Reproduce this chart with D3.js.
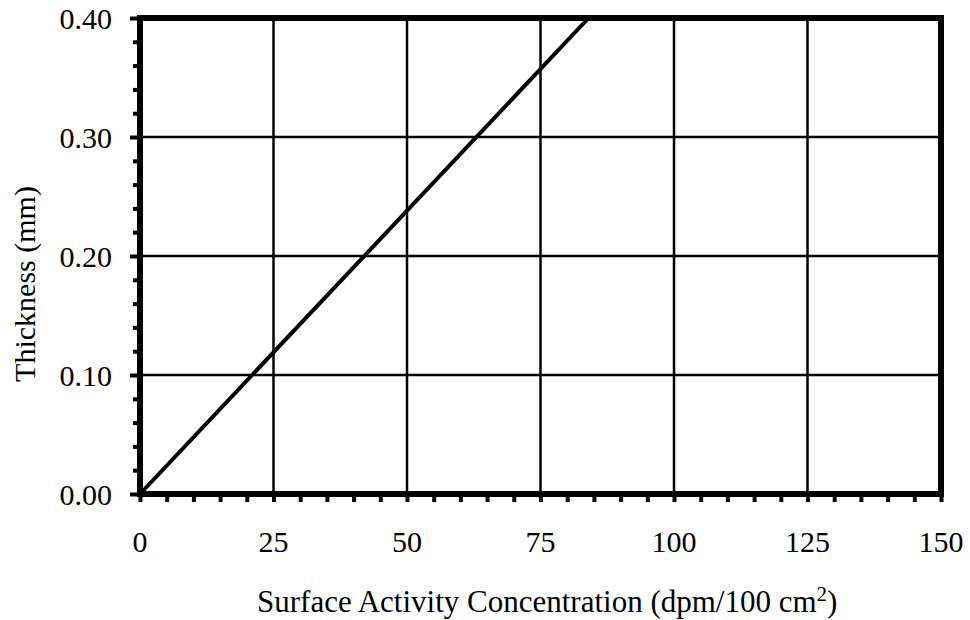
<!DOCTYPE html>
<html>
<head>
<meta charset="utf-8">
<script src="https://cdn.jsdelivr.net/npm/d3@7"></script>
<style>
  body { margin: 0; background: #fff; }
  text { font-family: "Liberation Serif", "Times New Roman", serif; fill: #000; }
</style>
</head>
<body>
<div id="chart"></div>
<script>
// data
var lineX = [0, 84];          // dpm/100 cm2
var lineY = [0.00, 0.40];     // mm
var xTicks = [0, 25, 50, 75, 100, 125, 150];
var yTicks = [0.00, 0.10, 0.20, 0.30, 0.40];
var xMinor = d3.range(0, 151, 5);
var yMinor = d3.range(0, 0.401, 0.02);

var width = 970, height = 620;
var margin = {top: 18, right: 29, bottom: 126, left: 140};
var chartWidth = width - margin.left - margin.right;
var chartHeight = height - margin.top - margin.bottom;
var fontSize = "30px";

var svg = d3.select("#chart").append("svg")
    .attr("width", width)
    .attr("height", height);

var xScale = d3.scaleLinear().domain([0, 150]).range([0, chartWidth]);
var yScale = d3.scaleLinear().domain([0, 0.40]).range([chartHeight, 0]);

var viz = svg.append("g")
    .attr("transform", "translate(" + margin.left + "," + margin.top + ")");

// grid lines
viz.append("g").selectAll("line")
    .data(xTicks.slice(1, -1))
    .enter().append("line")
    .attr("x1", function (d) { return xScale(d); })
    .attr("x2", function (d) { return xScale(d); })
    .attr("y1", 0).attr("y2", chartHeight)
    .attr("stroke", "#000").attr("stroke-width", 2.5);

viz.append("g").selectAll("line")
    .data(yTicks.slice(1, -1))
    .enter().append("line")
    .attr("y1", function (d) { return yScale(d); })
    .attr("y2", function (d) { return yScale(d); })
    .attr("x1", 0).attr("x2", chartWidth)
    .attr("stroke", "#000").attr("stroke-width", 2.5);

// minor ticks (outside)
var xAxis = d3.axisBottom(xScale).tickValues(xMinor).tickSize(8).tickFormat("");
var xaxis = viz.append("g")
    .attr("transform", "translate(0," + chartHeight + ")")
    .call(xAxis);
xaxis.select(".domain").remove();
xaxis.selectAll(".tick line").attr("stroke-width", 4);

var yAxis = d3.axisLeft(yScale).tickValues(yMinor).tickSize(7).tickFormat("");
var yaxis = viz.append("g").call(yAxis);
yaxis.select(".domain").remove();
yaxis.selectAll(".tick line")
    .attr("x2", function (d) { return Math.abs(d * 10 - Math.round(d * 10)) < 1e-6 ? -10 : -7; })
    .attr("stroke-width", 4);

// tick labels
viz.append("g").selectAll("text")
    .data(xTicks)
    .enter().append("text")
    .attr("x", function (d) { return xScale(d); })
    .attr("y", chartHeight + 58)
    .attr("text-anchor", "middle")
    .style("font-size", fontSize)
    .text(function (d) { return d; });

viz.append("g").selectAll("text")
    .data(yTicks)
    .enter().append("text")
    .attr("x", -28)
    .attr("y", function (d) { return yScale(d); })
    .attr("dy", "0.35em")
    .attr("text-anchor", "end")
    .style("font-size", fontSize)
    .text(function (d) { return d3.format(".2f")(d); });

// frame
viz.append("rect")
    .attr("x", 0).attr("y", 0)
    .attr("width", chartWidth).attr("height", chartHeight)
    .attr("fill", "none")
    .attr("stroke", "#000").attr("stroke-width", 6);

// data line
var pts = lineX.map(function (x, i) { return [x, lineY[i]]; });
viz.append("path")
    .datum(pts)
    .attr("fill", "none")
    .attr("stroke", "#000")
    .attr("stroke-width", 4)
    .attr("d", d3.line()
        .x(function (d) { return xScale(d[0]); })
        .y(function (d) { return yScale(d[1]); }));

// axis titles
svg.append("text")
    .attr("transform", "translate(35,284) rotate(-90)")
    .attr("text-anchor", "middle")
    .style("font-size", fontSize)
    .text("Thickness (mm)");

var xt = svg.append("text")
    .attr("x", 257)
    .attr("y", 612)
    .attr("text-anchor", "start")
    .style("font-size", "31px");
xt.append("tspan").text("Surface Activity Concentration (dpm/100 cm");
xt.append("tspan").style("font-size", "21px").attr("dy", "-11").text("2");
xt.append("tspan").attr("dy", "11").text(")");
</script>
</body>
</html>
